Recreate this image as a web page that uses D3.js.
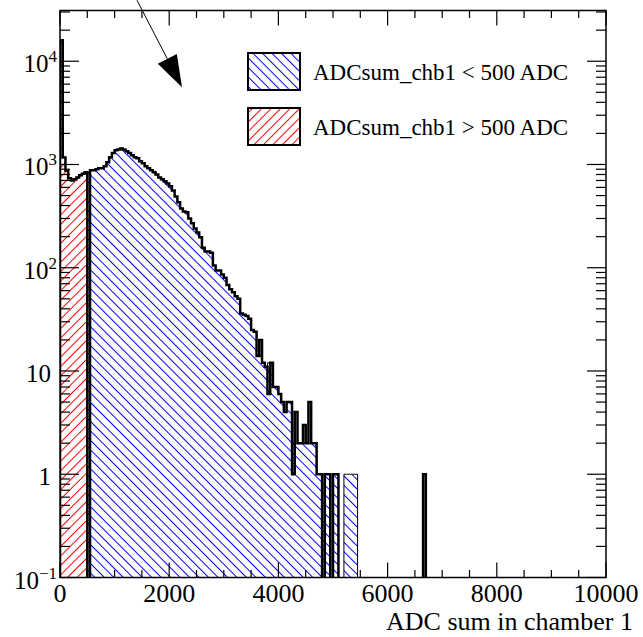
<!DOCTYPE html>
<html>
<head>
<meta charset="utf-8">
<script src="https://cdn.jsdelivr.net/npm/d3@7"></script>
<style>
  body { margin: 0; background: #fff; }
  svg { display: block; font-family: "Liberation Serif", "DejaVu Serif", serif; }
</style>
</head>
<body>
<svg id="chart" width="643" height="637"></svg>
<script>
// all three histograms share the binning: 50 ADC wide bins from 0 to 10000
var binLow = 0, binWidth = 50, nBins = 200;

// every event (thick black outline), bins 0..101
var totalCounts = [
  16000, 1170, 870, 735, 700, 720, 750, 785, 815, 840,
  0, 880, 880, 900, 920, 920, 960, 1050, 1175, 1290,
  1370, 1400, 1430, 1400, 1340, 1290, 1230, 1175, 1150, 1075,
  1030, 960, 920, 880, 840, 800, 750, 720, 690, 655,
  615, 560, 490, 430, 374, 350, 344, 300, 269, 240,
  220, 197, 156, 144, 144, 140, 105, 94, 94, 86,
  80, 68, 62, 58, 53, 50, 36, 35, 34, 32,
  25, 24, 14, 20, 12, 11, 6, 12, 7, 7,
  6, 5, 4, 5, 5, 1, 4, 2, 2, 3,
  2, 5, 2, 2, 1, 1, 0, 1, 1, 0,
  1, 1
];
// isolated entries further out: [bin, count]
var totalOutliers = [[133, 1]];

// red hatched histogram, starts at bin 0
var redStart = 0;
var redCounts = [16000, 1170, 870, 735, 700, 720, 750, 785, 815, 840];

// blue hatched histogram, starts at bin 10
var blueStart = 10;
var blueCounts = [
  840, 880, 880, 900, 920, 920, 960, 1050, 1175, 1290,
  1370, 1400, 1430, 1400, 1340, 1290, 1230, 1175, 1150, 1075,
  1030, 960, 920, 880, 840, 800, 750, 720, 690, 655,
  615, 560, 490, 430, 374, 350, 344, 300, 269, 240,
  220, 197, 156, 144, 144, 140, 105, 94, 94, 86,
  80, 68, 62, 58, 53, 50, 36, 35, 34, 32,
  25, 24, 14, 14, 12, 11, 12, 12, 7, 7,
  6, 5, 4, 5, 5, 2, 2, 2, 2, 2,
  2, 2, 2, 2, 1, 1, 1, 1, 1, 0,
  1, 1, 0, 0, 1, 1, 1, 1, 1
];

var xTickLabels = [0, 2000, 4000, 6000, 8000, 10000];
var yTickValues = [0.1, 1, 10, 100, 1000, 10000];
var yTickLabels = [["10", "\u22121"], ["1", ""], ["10", ""], ["10", "2"], ["10", "3"], ["10", "4"]];
var legendLabels = ["ADCsum_chb1 < 500 ADC", "ADCsum_chb1 > 500 ADC"];
var xTitle = "ADC sum in chamber 1";
// annotation arrow, in data coordinates
var arrowFrom = [1410, 39000], arrowTo = [2235, 5600];

var svg = d3.select('#chart');
var frame = {l: 60, r: 606, t: 10.5, b: 577.5};

var x = d3.scaleLinear().domain([0, 10000]).range([frame.l, frame.r]);
var y = d3.scaleLog().domain([0.1, 3.1e4]).range([frame.b, frame.t]);

// hatch patterns
var defs = svg.append('defs');
function hatch(id, color, angle) {
    defs.append('pattern')
        .attr('id', id)
        .attr('patternUnits', 'userSpaceOnUse')
        .attr('width', 6.7).attr('height', 6.7)
        .attr('patternTransform', 'rotate(' + angle + ')')
      .append('line')
        .attr('x1', 0.5).attr('y1', 0)
        .attr('x2', 0.5).attr('y2', 6.7)
        .attr('stroke', color)
        .attr('stroke-width', 1);
}
hatch('hatchBlue', '#0000ff', -45);
hatch('hatchRed', '#ff0000', 45);

defs.append('clipPath').attr('id', 'frameClip')
  .append('rect')
    .attr('x', frame.l).attr('y', frame.t)
    .attr('width', frame.r - frame.l).attr('height', frame.b - frame.t);

// step outline of a histogram starting at bin `start`
function stepPoints(start, counts) {
    var base = frame.b + 2;
    var pts = [[x(binLow + start * binWidth), base]];
    counts.forEach(function (c, i) {
        pts.push([x(binLow + (start + i) * binWidth), c > 0 ? y(c) : base]);
    });
    var last = counts[counts.length - 1];
    var xe = x(binLow + (start + counts.length) * binWidth);
    pts.push([xe, last > 0 ? y(last) : base]);
    pts.push([xe, base]);
    return pts;
}
var stepLine = d3.line().curve(d3.curveStepAfter);

var plot = svg.append('g').attr('clip-path', 'url(#frameClip)');

function drawHatched(start, counts, pattern) {
    var pts = stepPoints(start, counts);
    plot.append('path')
        .attr('d', stepLine(pts) + 'Z')
        .attr('fill', 'url(#' + pattern + ')')
        .attr('stroke', '#000')
        .attr('stroke-width', 1);
}
drawHatched(blueStart, blueCounts, 'hatchBlue');
drawHatched(redStart, redCounts, 'hatchRed');

var allCounts = d3.range(nBins).map(function (i) {
    return i < totalCounts.length ? totalCounts[i] : 0;
});
totalOutliers.forEach(function (o) { allCounts[o[0]] = o[1]; });

plot.append('path')
    .attr('d', stepLine(stepPoints(0, allCounts)))
    .attr('fill', 'none')
    .attr('stroke', '#000')
    .attr('stroke-width', 2.5)
    .attr('stroke-linejoin', 'miter');

// frame
svg.append('rect')
    .attr('x', frame.l).attr('y', frame.t)
    .attr('width', frame.r - frame.l).attr('height', frame.b - frame.t)
    .attr('fill', 'none').attr('stroke', '#000').attr('stroke-width', 1.5);

// x ticks, every 500, longer at labelled values
var ticks = svg.append('g').attr('stroke', '#000').attr('stroke-width', 1.2);
d3.range(0, 10001, 500).forEach(function (v) {
    var len = v % 2000 === 0 ? 15 : 7.5;
    ticks.append('line').attr('x1', x(v)).attr('x2', x(v))
        .attr('y1', frame.b).attr('y2', frame.b - len);
    ticks.append('line').attr('x1', x(v)).attr('x2', x(v))
        .attr('y1', frame.t).attr('y2', frame.t + len);
});

// y ticks, decades and 2..9 in between
var yMinor = [];
for (var k = -1; k <= 4; k++) {
    for (var m = 1; m <= 9; m++) {
        var v = m * Math.pow(10, k);
        if (v >= y.domain()[0] && v <= y.domain()[1]) yMinor.push({v: v, major: m === 1});
    }
}
yMinor.forEach(function (t) {
    var len = t.major ? 19 : 10;
    ticks.append('line').attr('x1', frame.l).attr('x2', frame.l + len)
        .attr('y1', y(t.v)).attr('y2', y(t.v));
    ticks.append('line').attr('x1', frame.r).attr('x2', frame.r - len)
        .attr('y1', y(t.v)).attr('y2', y(t.v));
});

// x labels
svg.append('g').selectAll('text')
    .data(xTickLabels)
  .enter().append('text')
    .attr('x', function (d) { return x(d); })
    .attr('y', 602)
    .attr('text-anchor', 'middle')
    .attr('font-size', 26)
    .text(function (d) { return d; });

// y labels
var yl = svg.append('g').selectAll('text')
    .data(yTickValues)
  .enter().append('text')
    .attr('x', function (d, i) { return yTickLabels[i][1] ? 57 : 51; })
    .attr('y', function (d) { return y(d) + 11; })
    .attr('text-anchor', 'end')
    .attr('font-size', 25);
yl.append('tspan').text(function (d, i) { return yTickLabels[i][0]; });
yl.append('tspan')
    .attr('dy', -10)
    .attr('font-size', 17)
    .text(function (d, i) { return yTickLabels[i][1]; });

svg.append('text')
    .attr('x', 633).attr('y', 630)
    .attr('text-anchor', 'end')
    .attr('font-size', 26)
    .text(xTitle);

// legend
var legend = svg.append('g');
var patterns = ['hatchBlue', 'hatchRed'];
legendLabels.forEach(function (label, i) {
    var top = 53 + i * 55;
    legend.append('rect')
        .attr('x', 248).attr('y', top)
        .attr('width', 52).attr('height', 37)
        .attr('fill', 'url(#' + patterns[i] + ')')
        .attr('stroke', '#000').attr('stroke-width', 2);
    legend.append('text')
        .attr('x', 313).attr('y', top + 27)
        .attr('font-size', 23)
        .text(label);
});

// arrow
var ax0 = x(arrowFrom[0]), ay0 = y(arrowFrom[1]);
var ax1 = x(arrowTo[0]), ay1 = y(arrowTo[1]);
var dx = ax1 - ax0, dy = ay1 - ay0, dl = Math.sqrt(dx * dx + dy * dy);
var ux = dx / dl, uy = dy / dl, headLen = 32, headHalf = 10.7;
var bx = ax1 - ux * headLen, by = ay1 - uy * headLen;
svg.append('line')
    .attr('x1', ax0).attr('y1', ay0).attr('x2', bx).attr('y2', by)
    .attr('stroke', '#000').attr('stroke-width', 1);
svg.append('path')
    .attr('d', 'M' + ax1 + ',' + ay1 +
               'L' + (bx - uy * headHalf) + ',' + (by + ux * headHalf) +
               'L' + (bx + uy * headHalf) + ',' + (by - ux * headHalf) + 'Z')
    .attr('fill', '#000');
</script>
</body>
</html>
